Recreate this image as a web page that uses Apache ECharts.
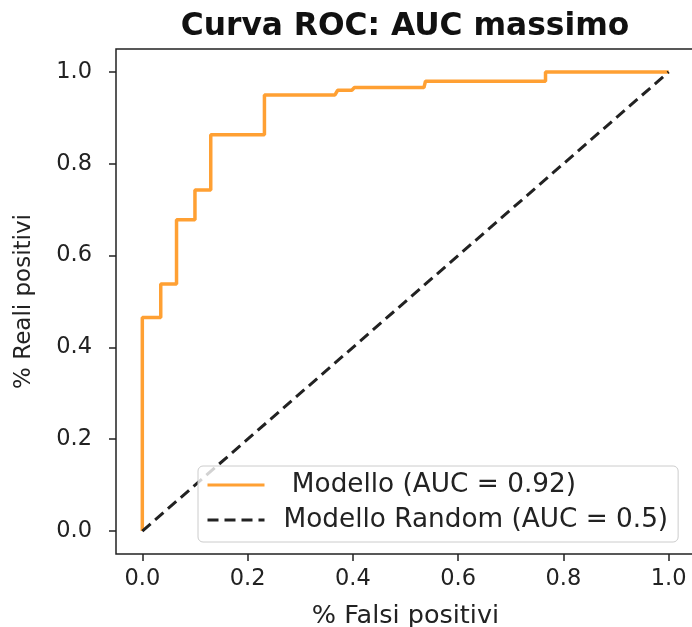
<!DOCTYPE html>
<html lang="it">
<head>
<meta charset="UTF-8">
<title>Curva ROC</title>
<style>
  * { margin: 0; padding: 0; }
  body { background: #fff; }
  #chart { width: 692px; height: 627px; }
</style>
</head>
<body>
<div id="chart"></div>
<script src="https://cdn.jsdelivr.net/npm/echarts@6/dist/echarts.min.js"></script>
<script>
// punti della curva ROC
const fpr = [0, 0, 0.035, 0.035, 0.065, 0.065, 0.1, 0.1, 0.13, 0.13, 0.232, 0.232, 0.366, 0.371, 0.398, 0.403, 0.535, 0.538, 0.766, 0.766, 1.0];
const tpr = [0, 0.465, 0.465, 0.538, 0.538, 0.678, 0.678, 0.743, 0.743, 0.863, 0.863, 0.95, 0.95, 0.96, 0.96, 0.966, 0.966, 0.98, 0.98, 1.0, 1.0];
// diagonale del modello casuale
const randomX = [0, 1];
const randomY = [0, 1];
const ticks = [0, 0.2, 0.4, 0.6, 0.8, 1.0];

const FONT = 'DejaVu Sans';
const chart = echarts.init(document.getElementById('chart'));

const axisCommon = {
  type: 'value',
  min: -0.05,
  max: 1.05,
  splitLine: { show: false },
  axisLine: { show: false, onZero: false },
  axisTick: { show: true, length: 7, customValues: ticks, lineStyle: { color: '#222', width: 1.5 } },
  nameLocation: 'middle'
};

chart.setOption({
  animation: false,
  backgroundColor: '#fff',
  graphic: [{
    type: 'text',
    x: 405,
    y: 27,
    style: {
      text: 'Curva ROC: AUC massimo',
      fontFamily: FONT,
      fontWeight: 'bold',
      fontSize: 31.3,
      fill: '#111',
      textAlign: 'center',
      textVerticalAlign: 'middle'
    }
  }],
  grid: {
    left: 116,
    right: -3,
    top: 49,
    bottom: 73,
    outerBoundsMode: 'none',
    show: true,
    borderColor: '#222',
    borderWidth: 1.5
  },
  legend: {
    left: 198,
    top: 466,
    orient: 'vertical',
    itemWidth: 57,
    itemHeight: 14,
    itemGap: 7,
    padding: [5, 10, 8, 8],
    backgroundColor: 'rgba(255,255,255,0.8)',
    borderColor: '#cccccc',
    borderWidth: 1,
    borderRadius: 5,
    itemStyle: { opacity: 0 },
    lineStyle: { width: 3 },
    textStyle: { fontFamily: FONT, fontSize: 26.3, color: '#222', lineHeight: 28, padding: [0, 0, 0, 14] },
    data: [' Modello (AUC = 0.92)', 'Modello Random (AUC = 0.5)']
  },
  xAxis: Object.assign({}, axisCommon, {
    name: '% Falsi positivi',
    nameGap: 49,
    nameTextStyle: { fontFamily: FONT, fontSize: 25.5, color: '#222' },
    axisLabel: {
      customValues: ticks,
      margin: 14,
      fontFamily: FONT, fontSize: 22.5, color: '#222',
      formatter: v => v.toFixed(1)
    }
  }),
  yAxis: Object.assign({}, axisCommon, {
    name: '% Reali positivi',
    nameGap: 80,
    nameTextStyle: { fontFamily: FONT, fontSize: 23, color: '#222' },
    axisLabel: {
      customValues: ticks,
      margin: 24,
      fontFamily: FONT, fontSize: 22.5, color: '#222',
      formatter: v => v.toFixed(1)
    }
  }),
  series: [
    {
      name: ' Modello (AUC = 0.92)',
      type: 'line',
      showSymbol: false,
      symbol: 'none',
      color: '#ffa033',
      lineStyle: { color: '#ffa033', width: 3.5 },
      data: fpr.map((x, i) => [x, tpr[i]])
    },
    {
      name: 'Modello Random (AUC = 0.5)',
      type: 'line',
      showSymbol: false,
      symbol: 'none',
      color: '#222',
      lineStyle: { color: '#222', width: 3, type: [11, 6] },
      data: randomX.map((x, i) => [x, randomY[i]])
    }
  ]
});
</script>
</body>
</html>
